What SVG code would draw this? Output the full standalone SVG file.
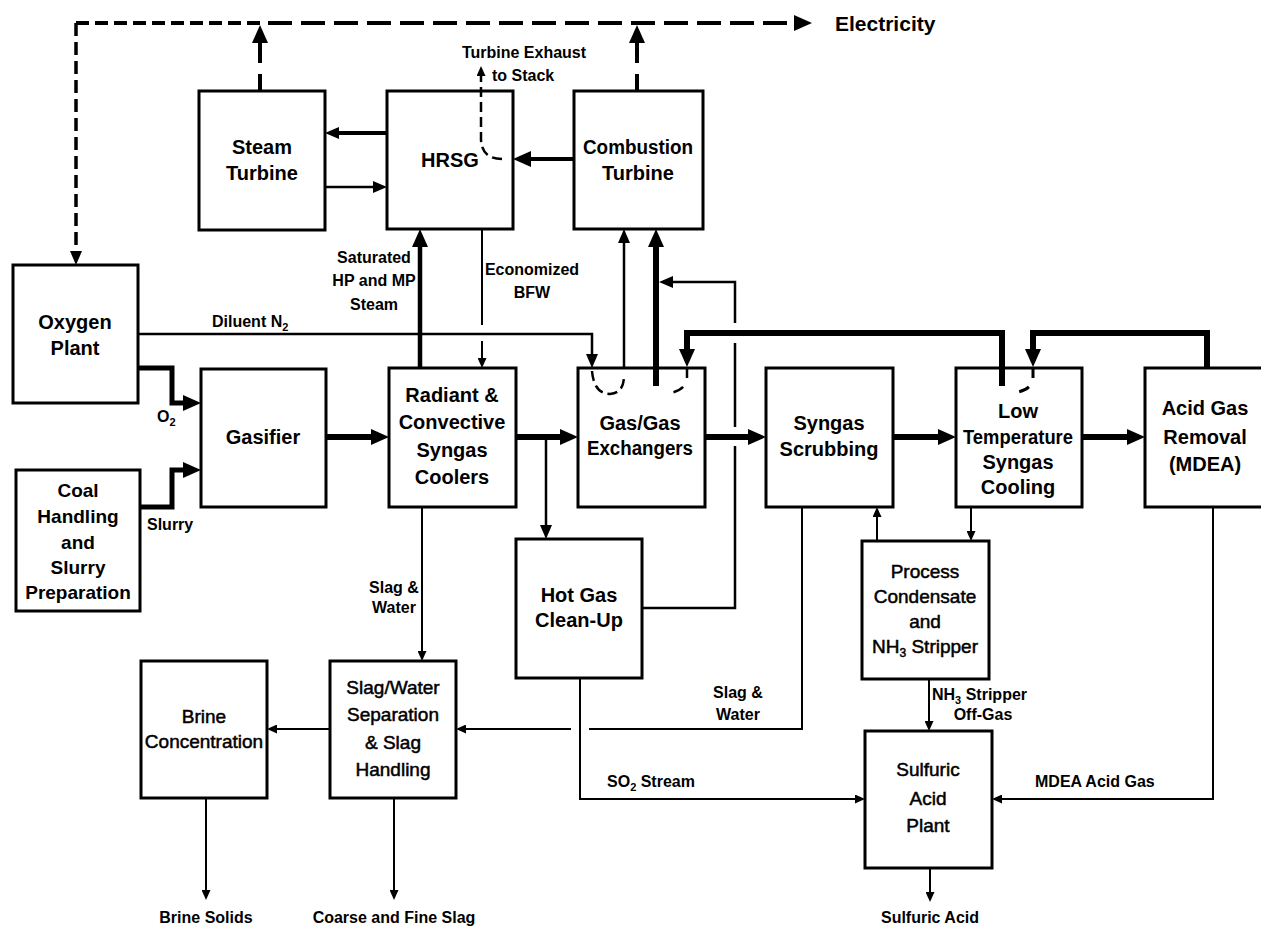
<svg xmlns="http://www.w3.org/2000/svg" width="1261" height="927" viewBox="0 0 1261 927">
<style>
.box{fill:#fff;stroke:#000;stroke-width:3}
.t{font-family:"Liberation Sans",Arial,sans-serif;font-weight:bold;font-size:20px;text-anchor:middle;fill:#000}
.r{font-family:"Liberation Sans",Arial,sans-serif;font-weight:normal;font-size:19px;text-anchor:middle;fill:#000;stroke:#000;stroke-width:0.5}
.l{font-family:"Liberation Sans",Arial,sans-serif;font-weight:bold;font-size:16px;fill:#000}
.m{text-anchor:middle}
.c{fill:none;stroke:#000;stroke-linejoin:miter}
.w6{stroke-width:6}.w5{stroke-width:5}.w4{stroke-width:4}.w3{stroke-width:2.5}.w2{stroke-width:2}
.d{stroke-dasharray:10 5}
</style>
<defs>
<marker id="ab" viewBox="0 0 18 16" refX="1" refY="8" markerWidth="18" markerHeight="16" markerUnits="userSpaceOnUse" orient="auto"><path d="M0,0 L18,8 L0,16 z"/></marker>
<marker id="am" viewBox="0 0 14 12" refX="1" refY="6" markerWidth="14" markerHeight="12" markerUnits="userSpaceOnUse" orient="auto"><path d="M0,0 L14,6 L0,12 z"/></marker>
<marker id="as" viewBox="0 0 10 9" refX="1" refY="4.5" markerWidth="10" markerHeight="9" markerUnits="userSpaceOnUse" orient="auto"><path d="M0,0 L10,4.5 L0,9 z"/></marker>
</defs>
<rect width="1261" height="927" fill="#fff"/>

<g id="steam-turbine"><rect class="box" x="199" y="91" width="126" height="139"/><text class="t" x="262" y="154">Steam</text><text class="t" x="262" y="180">Turbine</text></g>
<g id="hrsg"><rect class="box" x="387" y="91" width="126" height="138"/><text class="t" x="450" y="167">HRSG</text></g>
<g id="combustion-turbine"><rect class="box" x="574" y="91" width="129" height="138"/><text class="t" x="638" y="154" textLength="110" lengthAdjust="spacingAndGlyphs">Combustion</text><text class="t" x="638" y="180">Turbine</text></g>
<g id="oxygen-plant"><rect class="box" x="13" y="265" width="125" height="138"/><text class="t" x="75" y="329">Oxygen</text><text class="t" x="75" y="355">Plant</text></g>
<g id="gasifier"><rect class="box" x="201" y="369" width="125" height="138"/><text class="t" x="263" y="444">Gasifier</text></g>
<g id="coal-handling"><rect class="box" x="16" y="470" width="124" height="141"/><text class="t" style="font-size:19px" x="78" y="497">Coal</text><text class="t" style="font-size:19px" x="78" y="523">Handling</text><text class="t" style="font-size:19px" x="78" y="549">and</text><text class="t" style="font-size:19px" x="78" y="574">Slurry</text><text class="t" style="font-size:19px" x="78" y="599">Preparation</text></g>
<g id="radiant-coolers"><rect class="box" x="389" y="368" width="127" height="139"/><text class="t" x="452" y="402">Radiant &amp;</text><text class="t" x="452" y="429">Convective</text><text class="t" x="452" y="457">Syngas</text><text class="t" x="452" y="484">Coolers</text></g>
<g id="gas-gas-exchangers"><rect class="box" x="578" y="368" width="127" height="139"/><text class="t" x="640" y="430">Gas/Gas</text><text class="t" x="640" y="455" textLength="106" lengthAdjust="spacingAndGlyphs">Exchangers</text></g>
<g id="syngas-scrubbing"><rect class="box" x="766" y="368" width="127" height="139"/><text class="t" x="829" y="430">Syngas</text><text class="t" x="829" y="456">Scrubbing</text></g>
<g id="low-temp-cooling"><rect class="box" x="956" y="368" width="126" height="139"/><text class="t" x="1018" y="418">Low</text><text class="t" x="1018" y="444" textLength="110" lengthAdjust="spacingAndGlyphs">Temperature</text><text class="t" x="1018" y="469">Syngas</text><text class="t" x="1018" y="494">Cooling</text></g>
<g id="acid-gas-removal"><rect class="box" x="1145" y="368" width="130" height="139"/><text class="t" x="1205" y="415">Acid Gas</text><text class="t" x="1205" y="444">Removal</text><text class="t" x="1205" y="471">(MDEA)</text></g>
<g id="hot-gas-cleanup"><rect class="box" x="516" y="539" width="126" height="139"/><text class="t" x="579" y="602">Hot Gas</text><text class="t" x="579" y="627">Clean-Up</text></g>
<g id="process-condensate"><rect class="box" x="862" y="541" width="127" height="138"/><text class="r" x="925" y="578">Process</text><text class="r" x="925" y="603">Condensate</text><text class="r" x="925" y="628">and</text><text class="r" x="925" y="653">NH<tspan font-size="12" dy="4">3</tspan><tspan dy="-4"> Stripper</tspan></text></g>
<g id="brine-concentration"><rect class="box" x="141" y="661" width="126" height="137"/><text class="r" x="204" y="723">Brine</text><text class="r" x="204" y="748">Concentration</text></g>
<g id="slag-water-separation"><rect class="box" x="330" y="661" width="126" height="137"/><text class="r" x="393" y="694">Slag/Water</text><text class="r" x="393" y="721">Separation</text><text class="r" x="393" y="749">&amp; Slag</text><text class="r" x="393" y="776">Handling</text></g>
<g id="sulfuric-acid-plant"><rect class="box" x="865" y="731" width="127" height="137"/><text class="r" x="928" y="776">Sulfuric</text><text class="r" x="928" y="805">Acid</text><text class="r" x="928" y="832">Plant</text></g>

<g id="connectors">
<!-- electricity -->
<path class="c w4" d="M76,23 L262,23" style="stroke-dasharray:13 6"/>
<path class="c w4" d="M268,23 L795,23" style="stroke-dasharray:24 9" marker-end="url(#ab)"/>
<path class="c" style="stroke-width:3.5;stroke-dasharray:13 6" d="M76,23 L76,252" marker-end="url(#am)"/>
<path class="c w4" d="M260,91 L260,74"/>
<path class="c w4" d="M260,63 L260,42" marker-end="url(#ab)"/>
<path class="c w4" d="M637,91 L637,74"/>
<path class="c w4" d="M637,63 L637,42" marker-end="url(#ab)"/>
<!-- steam cycle -->
<path class="c w4" d="M387,133 L338,133" marker-end="url(#am)"/>
<path class="c w3" d="M325,187 L374,187" marker-end="url(#am)"/>
<path class="c w4" d="M574,159 L530,159" marker-end="url(#ab)"/>
<path class="c w3 d" d="M502,159 Q482,159 481,140 L481,75" marker-end="url(#as)"/>
<path class="c" style="stroke-width:4.5" d="M420,368 L420,246" marker-end="url(#ab)"/>
<path class="c w2" d="M482,229 L482,325"/>
<path class="c w2" d="M482,341 L482,359" marker-end="url(#as)"/>
<!-- gas/gas to CT -->
<path class="c w3" d="M624,368 L624,242" marker-end="url(#am)"/>
<path class="c w6" d="M656,386 L656,246" marker-end="url(#ab)"/>
<path class="c w3" d="M642,608 L735,608 L735,446"/>
<path class="c w3" d="M735,427 L735,343"/>
<path class="c w3" d="M735,323 L735,282 L672,282" marker-end="url(#am)"/>
<!-- diluent N2 -->
<path class="c w3" d="M138,334 L592,334 L592,355" marker-end="url(#am)"/>
<path class="c w3 d" d="M592,371 Q594,394 610,394 Q624,393 624,376"/>
<path class="c w3" style="stroke-dasharray:11 10" d="M687,367 L687,378 Q686,392 664,394"/>
<!-- recycles -->
<path class="c w6" d="M1002,386 L1002,333 L687,333 L687,350" marker-end="url(#ab)"/>
<path class="c w6" d="M1207,368 L1207,333 L1033,333 L1033,350" marker-end="url(#ab)"/>
<path class="c" style="stroke-width:3;stroke-dasharray:11 10" d="M1033,367 L1033,378 Q1032,391 1012,393"/>
<!-- feeds -->
<path class="c w5" d="M138,368 L172,368 L172,403 L184,403" marker-end="url(#ab)"/>
<path class="c w5" d="M140,507 L172,507 L172,470 L184,470" marker-end="url(#ab)"/>
<!-- main syngas -->
<path class="c w6" d="M326,437 L372,437" marker-end="url(#ab)"/>
<path class="c w6" d="M516,437 L561,437" marker-end="url(#ab)"/>
<path class="c w3" d="M546,437 L546,526" marker-end="url(#am)"/>
<path class="c w6" d="M705,437 L749,437" marker-end="url(#ab)"/>
<path class="c w6" d="M893,437 L939,437" marker-end="url(#ab)"/>
<path class="c w6" d="M1082,437 L1128,437" marker-end="url(#ab)"/>
<!-- condensate -->
<path class="c w2" d="M971,507 L971,532" marker-end="url(#as)"/>
<path class="c w2" d="M877,541 L877,516" marker-end="url(#as)"/>
<!-- slag & water -->
<path class="c w2" d="M422,507 L422,652" marker-end="url(#as)"/>
<path class="c w2" d="M802,507 L802,729 L589,729"/>
<path class="c w2" d="M571,729 L465,729" marker-end="url(#as)"/>
<path class="c w2" d="M330,729 L276,729" marker-end="url(#as)"/>
<path class="c w2" d="M206,798 L206,891" marker-end="url(#as)"/>
<path class="c w2" d="M394,798 L394,891" marker-end="url(#as)"/>
<!-- sulfur -->
<path class="c w2" d="M580,678 L580,799 L856,799" marker-end="url(#as)"/>
<path class="c w2" d="M929,679 L929,722" marker-end="url(#as)"/>
<path class="c w2" d="M1213,507 L1213,799 L1001,799" marker-end="url(#as)"/>
<path class="c w2" d="M930,868 L930,893" marker-end="url(#as)"/>
</g>

<g id="labels">
<text class="l" x="835" y="31" style="font-size:21px">Electricity</text>
<text class="l m" x="524" y="58">Turbine Exhaust</text>
<text class="l" x="492" y="81">to Stack</text>
<text class="l m" x="374" y="263">Saturated</text>
<text class="l m" x="374" y="286">HP and MP</text>
<text class="l m" x="374" y="310">Steam</text>
<text class="l m" x="532" y="275">Economized</text>
<text class="l m" x="532" y="298">BFW</text>
<text class="l" x="212" y="327">Diluent N<tspan font-size="11" dy="4">2</tspan></text>
<text class="l" x="157" y="422">O<tspan font-size="11" dy="4">2</tspan></text>
<text class="l" x="147" y="530">Slurry</text>
<text class="l m" x="394" y="593">Slag &amp;</text>
<text class="l m" x="394" y="613">Water</text>
<text class="l m" x="738" y="698">Slag &amp;</text>
<text class="l m" x="738" y="720">Water</text>
<text class="l" x="607" y="787">SO<tspan font-size="11" dy="4">2</tspan><tspan dy="-4"> Stream</tspan></text>
<text class="l" x="932" y="700">NH<tspan font-size="11" dy="4">3</tspan><tspan dy="-4"> Stripper</tspan></text>
<text class="l m" x="983" y="720">Off-Gas</text>
<text class="l" x="1035" y="787">MDEA Acid Gas</text>
<text class="l m" x="206" y="923">Brine Solids</text>
<text class="l m" x="394" y="923">Coarse and Fine Slag</text>
<text class="l m" x="930" y="923">Sulfuric Acid</text>
</g>
</svg>
